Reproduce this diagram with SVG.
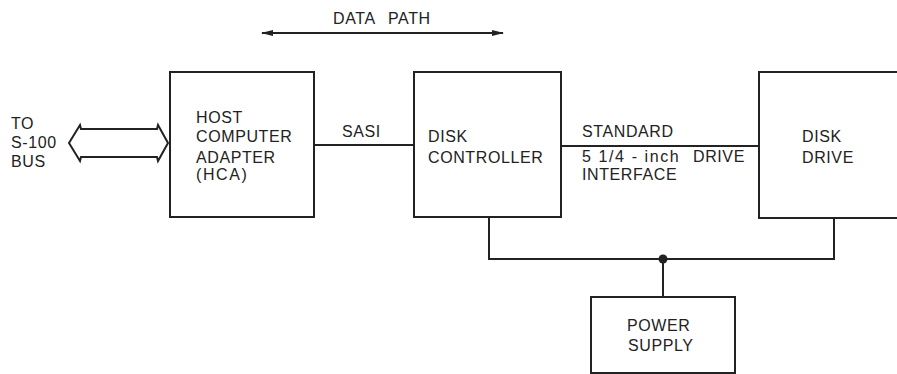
<svg xmlns="http://www.w3.org/2000/svg" width="897" height="374" viewBox="0 0 897 374">
<defs>
<style>
.box{fill:#fff;stroke:#222;stroke-width:2}
.ln{fill:none;stroke:#222;stroke-width:2}
text{font-family:"Liberation Sans",Arial,sans-serif;font-size:16px;fill:#222;letter-spacing:0.6px}
.wide{letter-spacing:1.6px}
</style>
<marker id="ah" markerWidth="12" markerHeight="8" refX="11" refY="4" orient="auto-start-reverse" markerUnits="userSpaceOnUse">
<path d="M0,1 L12,4 L0,7 Z" fill="#222"/>
</marker>
</defs>
<rect width="897" height="374" fill="#fff"/>
<g id="datapath">
<text x="333" y="24">DATA<tspan x="388">PATH</tspan></text>
<line class="ln" x1="262" y1="33" x2="503" y2="33" stroke-width="1.6" marker-start="url(#ah)" marker-end="url(#ah)"/>
</g>
<g id="s100bus">
<text x="11" y="129">TO</text>
<text x="11" y="148">S-100</text>
<text x="11" y="167">BUS</text>
<polygon class="ln" points="69,143 80,125 81,129 157,129 158,125 168,143 158,161 157,157 81,157 80,161"/>
</g>
<g id="hca">
<rect class="box" x="170" y="72" width="144" height="145"/>
<text x="196" y="123">HOST</text>
<text x="196" y="142">COMPUTER</text>
<text x="196" y="163">ADAPTER</text>
<text x="196" y="180" class="wide">(HCA)</text>
</g>
<g id="controller">
<rect class="box" x="414" y="72" width="147" height="145"/>
<text x="428" y="142">DISK</text>
<text x="428" y="163">CONTROLLER</text>
</g>
<g id="drive">
<rect class="box" x="759" y="72" width="150" height="146"/>
<text x="802" y="142">DISK</text>
<text x="802" y="163">DRIVE</text>
</g>
<g id="power">
<rect class="box" x="591" y="297" width="144" height="76"/>
<text x="627" y="331">POWER</text>
<text x="628" y="351">SUPPLY</text>
</g>
<g id="connectors">
<line class="ln" x1="314" y1="145" x2="414" y2="145"/>
<text x="342" y="137">SASI</text>
<line class="ln" x1="561" y1="146" x2="759" y2="146"/>
<text x="582" y="137">STANDARD</text>
<text x="582" y="162" class="wide">5 1/4 - inch<tspan x="693" style="letter-spacing:0.6px">DRIVE</tspan></text>
<text x="582" y="180">INTERFACE</text>
<polyline class="ln" points="489,217 489,259 834,259 834,218"/>
<line class="ln" x1="663" y1="259" x2="663" y2="297"/>
<circle cx="663" cy="259" r="4.5" fill="#222"/>
</g>
</svg>
